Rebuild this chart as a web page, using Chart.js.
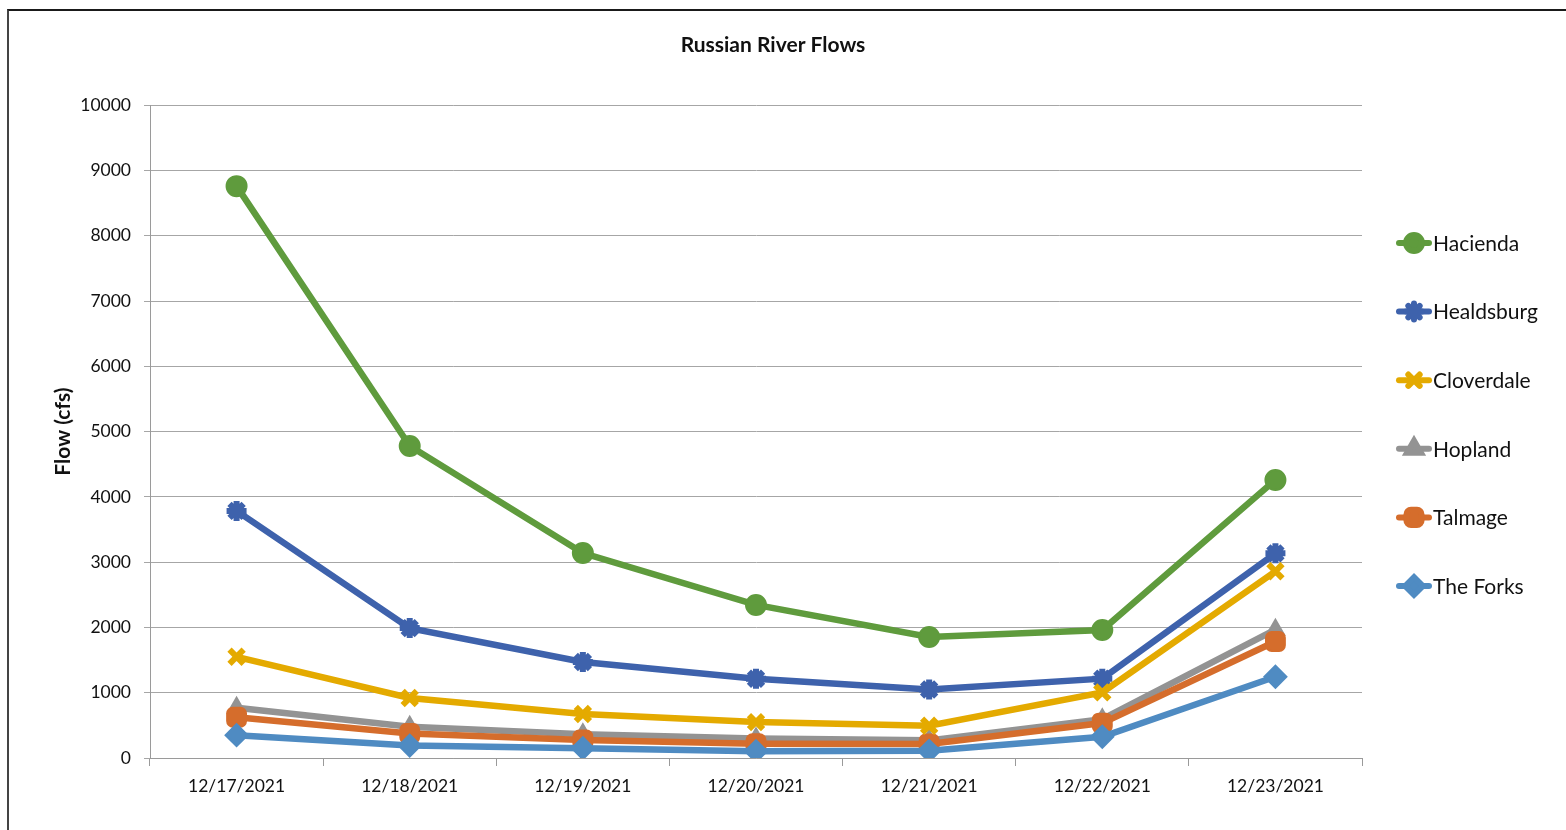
<!DOCTYPE html>
<html>
<head>
<meta charset="utf-8">
<script src="https://cdn.jsdelivr.net/npm/chart.js@4.4.1/dist/chart.umd.min.js"></script>
<style>
  html, body { margin: 0; padding: 0; background: #fff; }
  #wrap { position: relative; width: 1566px; height: 830px; }
  #frame { position: absolute; left: 7px; top: 9px; right: 0; bottom: 0;
           border-top: 2px solid #1a1a1a; border-left: 2px solid #444; pointer-events: none; }
</style>
</head>
<body>
<div id="wrap">
  <canvas id="flows" width="1566" height="830"></canvas>
  <div id="frame"></div>
</div>
<script>
// dates on the x axis
const dates = ['12/17/2021', '12/18/2021', '12/19/2021', '12/20/2021', '12/21/2021', '12/22/2021', '12/23/2021'];

// flows (cfs)
const hacienda   = [8760, 4780, 3140, 2345, 1855, 1960, 4260];
const healdsburg = [3785, 1990, 1470, 1215, 1050, 1215, 3135];
const cloverdale = [1550, 920, 675, 550, 495, 1005, 2860];
const hopland    = [770, 480, 365, 300, 270, 595, 1965];
const talmage    = [625, 375, 275, 220, 215, 535, 1785];
const theForks   = [350, 190, 150, 105, 110, 325, 1245];

const yTicks = [0, 1000, 2000, 3000, 4000, 5000, 6000, 7000, 8000, 9000, 10000];

const FONT = 'Lato, "Noto Sans", sans-serif';

const series = [
    { label: 'Hacienda',   data: hacienda,   color: '#5f9b3d', style: 'circle',      r: 10, bw: 2, order: 1 },
    { label: 'Healdsburg', data: healdsburg, color: '#3e62ac', style: 'star',        r: 10, bw: 6, order: 3 },
    { label: 'Cloverdale', data: cloverdale, color: '#e4aa00', style: 'crossRot',    r: 10, bw: 6, order: 2 },
    { label: 'Hopland',    data: hopland,    color: '#939393', style: 'triangle',    r: 10, bw: 2, order: 6 },
    { label: 'Talmage',    data: talmage,    color: '#d56d2c', style: 'rectRounded', r: 11, bw: 2, order: 5 },
    { label: 'The Forks',  data: theForks,   color: '#4f8bc2', style: 'rectRot',     r: 11, bw: 2, order: 4 }
];

// white background
const bgPlugin = {
    id: 'bg',
    beforeDraw(chart) {
        const ctx = chart.ctx;
        ctx.save();
        ctx.fillStyle = '#fff';
        ctx.fillRect(0, 0, chart.width, chart.height);
        ctx.restore();
    }
};

// legend on the right: line + marker + text, like the spreadsheet one
const sideLegend = {
    id: 'sideLegend',
    afterDraw(chart) {
        const ctx = chart.ctx;
        const x0 = chart.chartArea.right + 37;
        const yStart = 243, step = 68.6;
        ctx.save();
        series.forEach((s, i) => {
            const y = yStart + i * step;
            ctx.strokeStyle = s.color;
            ctx.fillStyle = s.color;
            ctx.lineWidth = 6;
            ctx.lineCap = 'round';
            ctx.beginPath();
            ctx.moveTo(x0, y);
            ctx.lineTo(x0 + 30, y);
            ctx.stroke();
            Chart.helpers.drawPoint(ctx, {
                pointStyle: s.style, radius: s.r * 0.8, borderWidth: s.bw, rotation: 0
            }, x0 + 15, y);
            ctx.fillStyle = '#111';
            ctx.font = '21px ' + FONT;
            ctx.textBaseline = 'middle';
            ctx.textAlign = 'left';
            ctx.fillText(s.label, x0 + 34, y + 1);
        });
        ctx.restore();
    }
};

new Chart(document.getElementById('flows'), {
    type: 'line',
    data: {
        labels: dates,
        datasets: series.map(s => ({
            label: s.label,
            data: s.data,
            order: s.order,
            borderColor: s.color,
            backgroundColor: s.color,
            borderWidth: 6.5,
            pointStyle: s.style,
            pointRadius: s.r,
            pointBorderWidth: s.bw,
            pointBackgroundColor: s.color,
            pointBorderColor: s.color,
            tension: 0
        }))
    },
    options: {
        responsive: false,
        animation: false,
        layout: { padding: { left: 0, right: 20, top: 0, bottom: 0 } },
        plugins: {
            legend: { display: false },
            tooltip: { enabled: false },
            title: {
                display: true,
                text: 'Russian River Flows',
                color: '#111',
                font: { family: FONT, size: 21, weight: 'bold' },
                padding: { top: 33, bottom: 47 }
            }
        },
        scales: {
            x: {
                offset: true,
                grid: {
                    display: true,
                    offset: true,
                    drawOnChartArea: false,
                    drawTicks: true,
                    tickLength: 8,
                    color: '#9a9a9a'
                },
                border: { display: true, color: '#9a9a9a', width: 1 },
                ticks: {
                    color: '#111',
                    padding: 10,
                    maxRotation: 0,
                    font: { family: FONT, size: 17.5 }
                },
                afterFit(scale) { scale.height = 72; }
            },
            y: {
                min: 0,
                max: 10000,
                afterBuildTicks(scale) { scale.ticks = yTicks.map(v => ({ value: v })); },
                grid: { color: '#a6a6a6', tickLength: 6 },
                border: { display: true, color: '#9a9a9a', width: 1 },
                ticks: {
                    color: '#111',
                    padding: 13,
                    font: { family: FONT, size: 17.5 },
                    callback: v => String(v)
                },
                title: {
                    display: true,
                    text: 'Flow (cfs)',
                    color: '#111',
                    font: { family: FONT, size: 21, weight: 'bold' },
                    padding: { top: 51, bottom: 0 }
                },
                afterFit(scale) { scale.width = 150; }
            },
            // empty axis that only reserves the room taken by the legend
            legendSpace: {
                type: 'linear',
                position: 'right',
                display: true,
                grid: { display: false },
                border: { display: false },
                ticks: { display: false },
                afterFit(scale) { scale.width = 184; }
            }
        }
    },
    plugins: [bgPlugin, sideLegend]
});
</script>
</body>
</html>
